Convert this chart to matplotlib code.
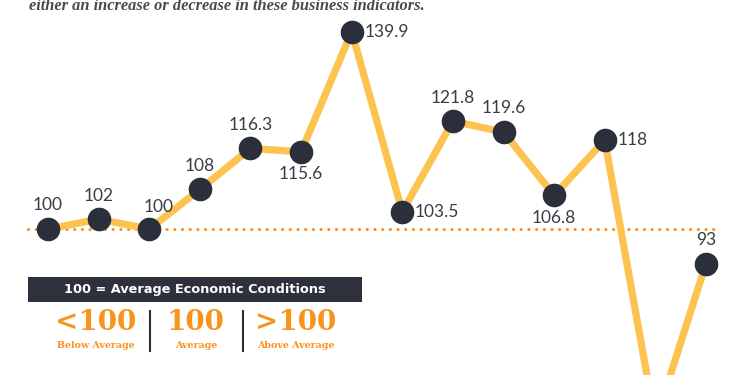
import matplotlib
matplotlib.use("Agg")
import matplotlib.pyplot as plt
import matplotlib.patches as mpatches

# データ
periods = list(range(14))
values = [100, 102, 100, 108, 116.3, 115.6, 139.9, 103.5, 121.8, 119.6, 106.8, 118, 61, 93]
baseline = 100

legend_title = "100 = Average Economic Conditions"
legend_big = ["<100", "100", ">100"]
legend_small = ["Below Average", "Average", "Above Average"]

# 色
LINE = "#FDC350"
DOT = "#2B2F3B"
ORANGE = "#F7941D"
TEXT = "#3A3D47"

# ラベルの置き方 (dx, dy, ha) ポイント単位
placement = {
    "up": (0, 17, "center", "center"),
    "up_r": (7, 16, "center", "center"),
    "down": (0, -16, "center", "center"),
    "right": (9, 0, "left", "center"),
}
label_side = ["up", "up", "up_r", "up", "up", "down", "right", "right",
              "up", "up", "down", "right", "down", "up"]

fig = plt.figure(figsize=(7.5, 3.75), dpi=100)
fig.patch.set_facecolor("white")
ax = fig.add_axes([0, 0, 1, 1])
ax.set_xlim(-0.949, 13.87)
ax.set_ylim(70.5, 146.3)
ax.axis("off")

# 基準線（点線）
ax.axhline(baseline, xmin=0.037, xmax=0.957, color=ORANGE, lw=2.3,
           linestyle=(0, (0.01, 2.4)), dash_capstyle="round", zorder=1)

ax.plot(periods, values, color=LINE, lw=5.2, solid_joinstyle="miter", zorder=2)
ax.plot(periods, values, "o", color=DOT, ms=16, zorder=3)

for x, v, side in zip(periods, values, label_side):
    dx, dy, ha, va = placement[side]
    ax.annotate(f"{v:g}", (x, v), xytext=(dx, dy), textcoords="offset points",
                ha=ha, va=va, fontsize=12.5, color=TEXT,
                family=["Lato", "DejaVu Sans"], zorder=4)

# 上部の説明文（切れている）
fig.text(29 / 750, 1 - 6 / 375,
         "either an increase or decrease in these business indicators.",
         ha="left", va="center", fontsize=11.8, style="italic",
         fontweight="bold", color="#4A4A4A", family="Liberation Serif")

# 凡例ボックス
W, H = 750, 375
fig.patches.append(mpatches.Rectangle((28 / W, 1 - 302 / H), 334 / W, 25 / H,
                                      transform=fig.transFigure,
                                      facecolor="#2E313B", edgecolor="none"))
fig.text(195 / W, 1 - 290 / H, legend_title, ha="center", va="center",
         fontsize=9.3, fontweight="bold", color="white", family="DejaVu Sans")

centers = [96, 196, 296]
for cx, big, small in zip(centers, legend_big, legend_small):
    fig.text(cx / W, 1 - 323 / H, big, ha="center", va="center",
             fontsize=20, fontweight="bold", color=ORANGE, family="DejaVu Serif")
    fig.text(cx / W, 1 - 345 / H, small, ha="center", va="center",
             fontsize=6.8, fontweight="bold", color=ORANGE, family="DejaVu Serif")

for sx in [150, 243]:
    fig.add_artist(plt.Line2D([sx / W, sx / W], [1 - 311 / H, 1 - 351 / H],
                              transform=fig.transFigure, color=DOT, lw=1.5))

fig.savefig("out.png", dpi=100, facecolor="white")
